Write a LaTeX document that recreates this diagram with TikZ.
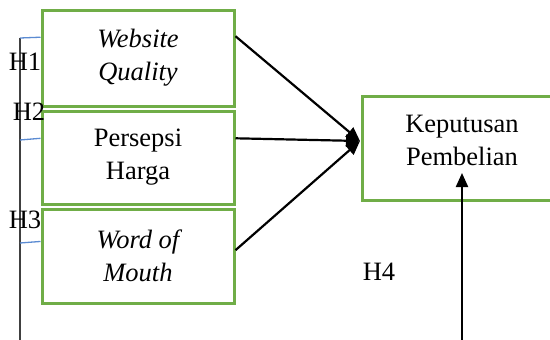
\documentclass[tikz,border=0pt]{standalone}
\usepackage{fontspec}
\setmainfont{Liberation Serif}
\usetikzlibrary{arrows.meta,calc}

\definecolor{boxgreen}{RGB}{112,173,71}
\definecolor{tickblue}{RGB}{91,139,210}

\begin{document}
\begin{tikzpicture}
  [x=1pt, y=-1pt,
   every node/.style={font=\fontsize{26.5}{33}\selectfont, inner sep=0pt},
   varbox/.style={draw=boxgreen, line width=3pt, minimum width=192pt,
                  align=center},
   link/.style={line width=2.2pt, -{Triangle[length=14pt,width=12pt]}},
   tick/.style={draw=tickblue, line width=1.3pt}]
  \useasboundingbox (0,0) rectangle (550,340);
  \clip (0,0) rectangle (550,340);

  % independent variables
  \node [varbox, minimum height=96pt] (wq)  at (138,58)    {\itshape Website\\\itshape Quality};
  \node [varbox, minimum height=93pt] (ph)  at (138,157.5) {Persepsi\\Harga};
  \node [varbox, minimum height=94pt] (wom) at (138,256)   {\itshape Word of\\\itshape Mouth};

  % dependent variable
  \node [varbox, minimum width=200pt, minimum height=104pt, text depth=16pt] (kp)
        at (462,148) {Keputusan\\Pembelian};

  % arrows into the dependent variable
  \coordinate (meet) at (360,141);
  \draw [link] ($(wq.north east)!0.28!(wq.south east)$)   -- (meet);
  \draw [link] ($(ph.north east)!0.30!(ph.south east)$)   -- (meet);
  \draw [link] ($(wom.north east)!0.44!(wom.south east)$) -- (meet);

  \coordinate (simul) at (462,340);
  \coordinate (simtip) at (462,173);
  \draw [link] (simul) -- (simtip);

  % hypothesis bar on the left
  \coordinate (h1) at (20,38);
  \coordinate (h2) at (20,140);
  \coordinate (h3) at (20,243);
  \coordinate (hend) at (20,340);
  \draw [black!75, line width=1.2pt] (h1) -- (hend);
  \draw [tick] (h1) -- ($(wq.north west)!0.29!(wq.south west)$);
  \draw [tick] (h2) -- ($(ph.north west)!0.30!(ph.south west)$);
  \draw [tick] (h3) -- ($(wom.north west)!0.35!(wom.south west)$);

  \node (lh1) at (25,62)   {H1};
  \node (lh2) at (29,112)  {H2};
  \node (lh3) at (25,220)  {H3};
  \node (lh4) at (379,272) {H4};
\end{tikzpicture}
\end{document}
